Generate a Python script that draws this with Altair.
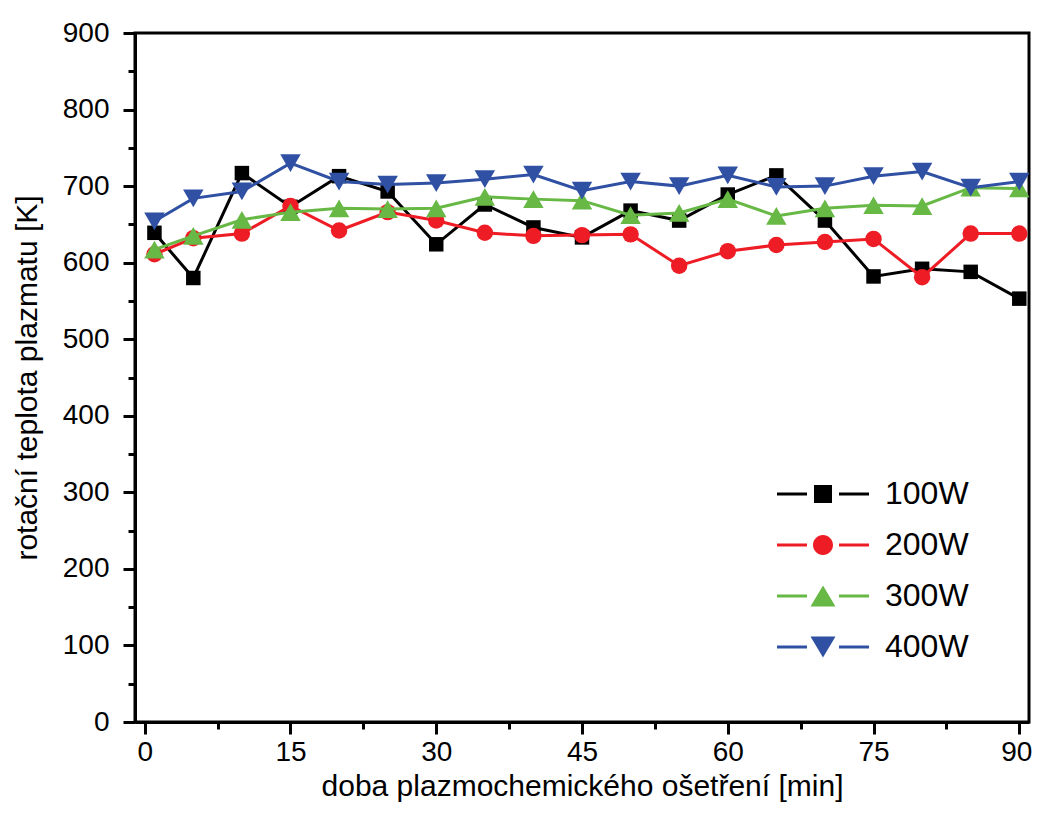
import altair as alt
import pandas as pd

minutes = [1, 5, 10, 15, 20, 25, 30, 35, 40, 45, 50, 55, 60, 65, 70, 75, 80, 85, 90]
series_names = ["100W", "200W", "300W", "400W"]
t100 = [639, 580, 717, 673, 713, 693, 624, 676, 646, 633, 668, 655, 689, 714, 655, 582, 592, 588, 553]
t200 = [611, 632, 638, 674, 642, 666, 655, 639, 635, 636, 637, 596, 615, 623, 627, 631, 581, 638, 638]
t300 = [617, 635, 656, 666, 671, 670, 671, 686, 683, 681, 662, 665, 683, 661, 671, 675, 674, 698, 697]
t400 = [654, 684, 693, 730, 706, 702, 704, 709, 715, 694, 706, 700, 714, 699, 700, 713, 719, 698, 706]
colors = ["#000000", "#ee1c25", "#67b845", "#2f50a3"]
plot_shapes = ["square", "circle", "triangle-up", "triangle-down"]
plot_sizes = [210, 270, 420, 420]

x_ticks = [0, 7.5, 15, 22.5, 30, 37.5, 45, 52.5, 60, 67.5, 75, 82.5, 90]
y_ticks = list(range(0, 901, 50))

rows = []
for name, vals in zip(series_names, [t100, t200, t300, t400]):
    for m, v in zip(minutes, vals):
        rows.append({"series": name, "min": m, "temp": v})
df = pd.DataFrame(rows)

# legend symbols: line segments + marker (unit = 10 px)
seg = "M-4.6,-0.15H-1.6V0.15H-4.6Z M1.6,-0.15H4.6V0.15H1.6Z "
legend_paths = [
    seg + "M-0.9,-0.9H0.9V0.9H-0.9Z",
    seg + "M-1,0A1,1 0 1,0 1,0A1,1 0 1,0 -1,0Z",
    seg + "M0,-1.05L1.25,1.05H-1.25Z",
    seg + "M0,1.05L1.25,-1.05H-1.25Z",
]

x_enc = alt.X(
    "min:Q",
    scale=alt.Scale(domain=[-1, 91], nice=False, zero=False),
    axis=alt.Axis(
        values=x_ticks,
        title="doba plazmochemického ošetření [min]",
        labelExpr="datum.value % 15 === 0 ? datum.label : ''",
        tickSize={"condition": {"test": "datum.value % 15 === 0", "value": 12}, "value": 7},
        labelOffset={"condition": {"test": "datum.value === 90", "value": -3}, "value": 0},
        labelFont="Liberation Sans",
        labelFontSize=28,
        labelPadding=4,
        titleFont="Liberation Sans",
        titleFontSize=30,
        titleFontWeight="normal",
        titlePadding=5,
    ),
)
y_enc = alt.Y(
    "temp:Q",
    scale=alt.Scale(domain=[0, 900], nice=False),
    axis=alt.Axis(
        values=y_ticks,
        title="rotační teplota plazmatu [K]",
        labelExpr="datum.value % 100 === 0 ? datum.label : ''",
        tickSize={"condition": {"test": "datum.value % 100 === 0", "value": 12}, "value": 7},
        labelFont="Liberation Sans",
        labelFontSize=28,
        labelPadding=14,
        titleFont="Liberation Sans",
        titleFontSize=30,
        titleFontWeight="normal",
        titlePadding=20,
    ),
)

base = alt.Chart(df)
layers = []
for name, col, shp, sz in zip(series_names, colors, plot_shapes, plot_sizes):
    sub = base.transform_filter(alt.datum.series == name)
    layers.append(sub.mark_line(color=col, strokeWidth=3).encode(x=x_enc, y=y_enc))
    layers.append(
        sub.mark_point(filled=True, shape=shp, size=sz, color=col, opacity=1, strokeWidth=0).encode(
            x=x_enc, y=y_enc
        )
    )

legend_layer = base.transform_filter("false").mark_point(filled=True, size=400, opacity=1).encode(
    x=x_enc,
    y=y_enc,
    color=alt.Color(
        "series:N",
        scale=alt.Scale(domain=series_names, range=colors),
        legend=alt.Legend(
            title=None,
            orient="none",
            legendX=672,
            legendY=445,
            padding=0,
            labelFont="Liberation Sans",
            labelFontSize=32,
            labelColor="black",
            labelOffset=46,
            rowPadding=19,
            symbolSize=400,
            symbolStrokeWidth=0,
            symbolOpacity=1,
        ),
    ),
    shape=alt.Shape("series:N", scale=alt.Scale(domain=series_names, range=legend_paths)),
)

chart = (
    alt.layer(*layers, legend_layer)
    .properties(width=894, height=689, autosize=alt.AutoSizeParams(type="none"),
                padding={"left": 127, "top": 25, "right": 3, "bottom": 88})
    .configure_view(stroke="black", strokeWidth=3)
    .configure_axis(
        grid=False,
        domainColor="black",
        domainWidth=3,
        tickColor="black",
        tickWidth=3,
        labelColor="black",
        titleColor="black",
    )
)

chart.save("out.html", embed_options={"renderer": "svg", "actions": False})
